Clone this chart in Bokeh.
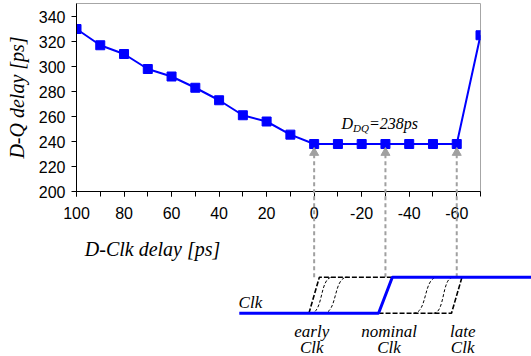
from bokeh.plotting import figure
from bokeh.models import Range1d, FixedTicker
from bokeh.core.properties import value
from bokeh.embed import file_html
from bokeh.resources import INLINE

# ---------------- data ----------------
dclk_delay = [100, 90, 80, 70, 60, 50, 40, 30, 20, 10, 0, -10, -20, -30, -40, -50, -60, -70]
dq_delay = [330, 317, 310, 298, 292, 283, 273, 261, 256, 245.5, 238, 238, 238, 238, 238, 238, 238, 325]
x_major_ticks = [100, 80, 60, 40, 20, 0, -20, -40, -60]
x_minor_ticks = [100, 90, 80, 70, 60, 50, 40, 30, 20, 10, 0, -10, -20, -30, -40, -50, -60, -70]
y_ticks = [200, 220, 240, 260, 280, 300, 320, 340]
x_title = "D-Clk delay [ps]"
y_title = "D-Q delay [ps]"
ddq_value = 238

# clock diagram (schematic): edge times of early / nominal / late clock
clk_times = [0, -30, -60]
clk_names = ["early", "nominal", "late"]
clk_label_x = [1, -31.5, -62.5]
clk_low, clk_high = 0, 1
slow_edge_start = [1.5, -3.9, -41.8, -50.2]
slow_edge_end = [-7.7, -14.0, -51.9, -58.6]
wave_start, wave_end = 31.5, -92

# ---------------- styles ----------------
BLUE = "#0000ff"
GRAY = "#a6a6a6"
ARROW_GRAY = "#a0a0a0"
SERIF = "Liberation Serif"
SANS = "Liberation Sans"
X_RANGE = (100, -70)
Y_RANGE = (200, 350.4)
CLK_RANGE = (3.381, 8.603)
EDGE = 2.2      # half width of dashed clock edges
NOM_EDGE = 2.9  # half width of nominal clock edge

p = figure(width=531, height=356, output_backend="svg", toolbar_location=None,
           x_range=Range1d(*X_RANGE), y_range=Range1d(*Y_RANGE),
           min_border_left=76, min_border_right=51, min_border_top=3, min_border_bottom=165)
p.extra_y_ranges = {"clk": Range1d(*CLK_RANGE)}
p.xgrid.visible = False
p.ygrid.visible = False
p.outline_line_color = GRAY
p.outline_line_width = 1
p.background_fill_color = "white"
p.border_fill_color = "white"

# x axis
xa = p.xaxis[0]
xa.ticker = FixedTicker(ticks=x_major_ticks, minor_ticks=x_minor_ticks)
xa.major_label_overrides = {t: str(t) for t in x_major_ticks}
xa.major_tick_out = 5
xa.major_tick_in = 0
xa.minor_tick_out = 5
xa.minor_tick_in = 0
xa.major_label_standoff = 10
xa.major_label_text_font = SANS
xa.major_label_text_font_size = "16px"
xa.major_label_text_color = "black"
xa.axis_line_color = "black"
xa.major_tick_line_color = "black"
xa.minor_tick_line_color = "black"

# y axis
ya = p.yaxis[0]
ya.ticker = FixedTicker(ticks=y_ticks, minor_ticks=[])
ya.major_label_overrides = {t: str(t) for t in y_ticks}
ya.major_tick_out = 5
ya.major_tick_in = 0
ya.minor_tick_out = 0
ya.minor_tick_in = 0
ya.major_label_standoff = 6
ya.major_label_text_font = SANS
ya.major_label_text_font_size = "16px"
ya.major_label_text_color = "black"
ya.axis_line_color = "black"
ya.major_tick_line_color = "black"
ya.axis_label = y_title
ya.axis_label_text_font = SERIF
ya.axis_label_text_font_style = "italic"
ya.axis_label_text_font_size = "20px"
ya.axis_label_text_color = "black"
ya.axis_label_standoff = 8

# main series
p.line(dclk_delay, dq_delay, line_color=BLUE, line_width=2)
p.scatter(dclk_delay, dq_delay, marker="square", size=9, fill_color=BLUE, line_color=BLUE)

# x title under the tick labels (left part of the axis)
p.text(x=[68], y=[154.2], text=[x_title], text_font=value(SERIF), text_font_style="italic",
       text_font_size="20px", text_align="center", text_baseline="alphabetic",
       text_color="black", level="overlay")

# D_DQ label
lab = dict(x=[-11.5], y=[254.2], text_font=value(SERIF), text_font_style="italic",
           text_align="left", text_baseline="alphabetic", text_color="black")
p.text(text=["D"], text_font_size="16px", **lab)
p.text(text=["DQ"], text_font_size="11px", x_offset=11.5, y_offset=4, **lab)
p.text(text=["=%dps" % ddq_value], text_font_size="16px", x_offset=27.5, **lab)

# ---------------- clock diagram ----------------
def to_clk(v):
    return CLK_RANGE[0] + (v - Y_RANGE[0]) * (CLK_RANGE[1] - CLK_RANGE[0]) / (Y_RANGE[1] - Y_RANGE[0])

t_e, t_n, t_l = clk_times
ov = dict(y_range_name="clk", level="overlay")

# dashed gray arrows from the clock edges up to the curve
head_y = to_clk(ddq_value - 7)
p.segment(x0=clk_times, y0=[clk_high] * 3, x1=clk_times, y1=[head_y] * 3,
          line_color=ARROW_GRAY, line_width=2, line_dash="4 3", **ov)
p.scatter(x=clk_times, y=[head_y] * 3, marker="triangle", size=9,
          fill_color=ARROW_GRAY, line_color=ARROW_GRAY, **ov)

# dashed early / late outlines
p.line([t_e + EDGE, t_e - EDGE, t_n - NOM_EDGE], [clk_low, clk_high, clk_high],
       line_color="black", line_width=1.6, line_dash="5 2", **ov)
p.line([t_n + NOM_EDGE, t_l + EDGE, t_l - EDGE], [clk_low, clk_low, clk_high],
       line_color="black", line_width=1.6, line_dash="5 2", **ov)

# slow intermediate edges
cx0 = [s + 0.6 * (e - s) for s, e in zip(slow_edge_start, slow_edge_end)]
cx1 = [e - 0.6 * (e - s) for s, e in zip(slow_edge_start, slow_edge_end)]
n = len(slow_edge_start)
p.bezier(x0=slow_edge_start, y0=[clk_low] * n, x1=slow_edge_end, y1=[clk_high] * n,
         cx0=cx0, cy0=[clk_low] * n, cx1=cx1, cy1=[clk_high] * n,
         line_color="black", line_width=1, line_dash="3 2", **ov)

# nominal clock
p.line([wave_start, t_n + NOM_EDGE, t_n - NOM_EDGE, wave_end],
       [clk_low, clk_low, clk_high, clk_high], line_color=BLUE, line_width=3, **ov)

# clock labels
ck = dict(text_font=value(SERIF), text_font_style="italic", text_font_size="17px",
          text_baseline="alphabetic", text_color="black", **ov)
p.text(x=[31.8], y=[0.3], text=["Clk"], text_align="left", **ck)
p.text(x=clk_label_x, y=[-0.5] * 3, text=clk_names, text_align="center", **ck)
p.text(x=clk_label_x, y=[-0.96] * 3, text=["Clk"] * 3, text_align="center", **ck)

open("out.html", "w").write(file_html(p, INLINE))
